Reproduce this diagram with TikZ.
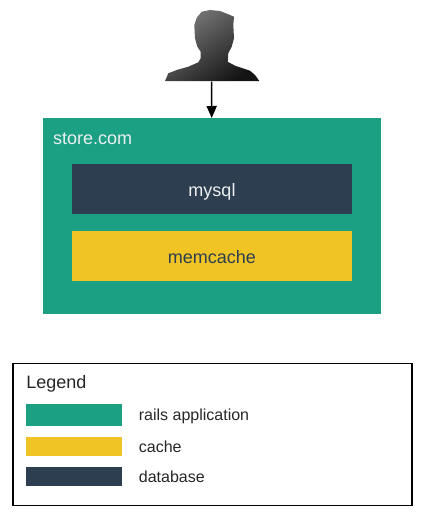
\documentclass[tikz,border=0pt]{standalone}
\usepackage{fontspec}
\setmainfont{Liberation Sans}
\usetikzlibrary{positioning}
\usetikzlibrary{arrows.meta}
\definecolor{railsgreen}{HTML}{1BA083}
\definecolor{cacheyellow}{HTML}{F1C425}
\definecolor{dbblue}{HTML}{2C3E50}
\definecolor{boxtext}{HTML}{ECF0F1}
\begin{document}
\begin{tikzpicture}[x=1pt,y=-1pt,
    block/.style={rectangle, inner sep=0, outer sep=0, font=\fontsize{18}{20}\selectfont, text height=19pt, text depth=4pt},
    swatch/.style={rectangle, inner sep=0, outer sep=0, minimum width=96pt},
    legendtext/.style={inner sep=0, outer sep=0, font=\fontsize{16}{18}\selectfont, text=black!85, text height=16pt, text depth=3.5pt},
]
    \useasboundingbox (0,0) rectangle (424,517);

    % user silhouette
    \path[shading=axis, top color=black!52, middle color=black!66, bottom color=black!92, shading angle=35]
        (165,81) -- (168.3,73.3) -- (176.7,70) -- (188.3,66.7) -- (198.3,62.3) -- (200.7,58.3) -- (200.7,51.7)
        -- (197.3,46.7) -- (195,38.3) -- (194.3,25) -- (196.7,17.7) -- (201.7,11.7) -- (210,10) -- (220,11)
        -- (228.3,14.3) -- (234,16.7) -- (233.3,25) -- (234,38.3) -- (231.7,46.7) -- (228.3,53.3) -- (227.7,61.7)
        -- (235,65.7) -- (250,70.7) -- (255,75) -- (259.3,81) -- cycle;
    \node (user) [minimum width=96pt, minimum height=71pt, inner sep=0, outer sep=0] at (211.5,46) {};

    \node (store) [block, fill=railsgreen, minimum width=338pt, minimum height=196pt] at (212,216) {};
    \node (title) [block, text=boxtext, below right = 7pt and 10pt of store.north west] {store.com};
    \node (mysql) [block, fill=dbblue, text=boxtext, minimum width=280pt, minimum height=50pt, below = 46pt of store.north] {mysql};
    \node (memcache) [block, fill=cacheyellow, text=dbblue, minimum width=280pt, minimum height=50pt, below = 16.5pt of mysql] {memcache};

    \draw[-{Triangle[length=12pt,width=10pt]}, line width=1.6pt] (user) -- (store);

    \node (legend) [draw, line width=1.2pt, inner sep=0, minimum width=399pt, minimum height=141.5pt] at (212.5,434.5) {};
    \node (legendtitle) [legendtext, font=\fontsize{18}{20}\selectfont, below right = 9pt and 14pt of legend.north west] {Legend};
    \node (rails) [swatch, fill=railsgreen, minimum height=22pt, below right = 40.5pt and 14pt of legend.north west] {};
    \node (cache) [swatch, fill=cacheyellow, minimum height=19pt, below = 11pt of rails] {};
    \node (database) [swatch, fill=dbblue, minimum height=19pt, below = 11pt of cache] {};
    \node (railstext) [legendtext, right = 16.5pt of rails] {rails application};
    \node (cachetext) [legendtext, right = 16.5pt of cache] {cache};
    \node (databasetext) [legendtext, right = 16.5pt of database] {database};
\end{tikzpicture}
\end{document}
